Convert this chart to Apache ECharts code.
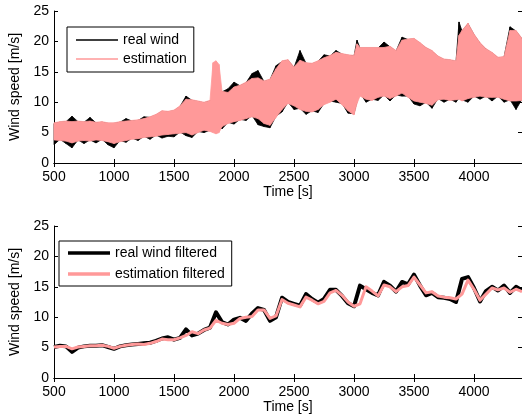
<!DOCTYPE html>
<html><head><meta charset="utf-8">
<script src="https://cdn.jsdelivr.net/npm/echarts@6/dist/echarts.min.js"></script>
<style>html,body{margin:0;padding:0;background:#fff}#c{width:522px;height:417px}</style>
</head><body><div id="c"></div>
<script>
// ---- top panel: envelopes of the raw signals (m/s) ----
const topTime = [500,550,600,650,700,750,800,850,900,950,1000,1050,1100,1150,1200,1250,1300,1350,1400,1450,1500,1550,1600,1650,1700,1750,1800,1825,1850,1875,1900,1950,2000,2050,2100,2150,2200,2250,2300,2350,2400,2450,2500,2550,2600,2650,2700,2750,2800,2850,2900,2950,3000,3025,3050,3100,3150,3200,3250,3300,3350,3400,3450,3500,3550,3600,3650,3700,3750,3800,3850,3875,3900,3950,4000,4050,4100,4150,4200,4250,4300,4350,4400];
const estHigh = [6.6,6.8,6.9,6.8,6.9,6.8,6.9,6.7,6.8,6.6,6.6,6.8,6.9,7.0,7.1,7.3,7.6,8.0,8.6,8.5,8.7,9.4,10.5,10.4,10.2,10.0,10.3,16.5,16.8,16.2,11.8,11.6,12.5,12.8,13.3,13.9,14.0,13.5,13.8,15.5,16.8,17.0,15.8,16.9,16.5,16.4,16.8,17.3,17.7,18.2,18.0,17.8,17.7,19.6,19.0,19.0,19.0,19.0,19.0,19.2,18.5,20.2,20.4,20.5,19.8,19.0,18.5,17.6,17.1,17.0,16.8,21.0,21.8,23.0,21.2,19.8,18.8,18.2,17.4,17.5,21.8,21.8,20.5];
const estLow = [3.8,3.7,3.6,3.3,3.6,3.7,3.6,3.8,3.7,3.5,3.2,3.5,3.7,3.9,4.0,4.2,4.3,4.4,4.6,4.7,4.8,4.9,5.0,4.6,5.0,5.4,5.2,5.0,4.8,5.0,6.0,6.5,6.8,7.0,7.3,7.6,7.3,6.5,6.2,7.5,8.8,9.8,9.4,8.8,8.5,8.4,8.8,9.6,10.0,10.5,9.6,8.6,7.9,9.8,11.0,10.5,10.3,10.8,11.0,10.6,11.0,11.5,10.8,10.2,10.0,9.8,9.5,10.4,10.5,10.3,10.4,10.5,10.2,10.6,10.8,11.0,10.8,10.8,10.8,10.5,10.2,10.2,10.3];
const realHigh = [6.5,6.7,6.8,7.7,6.8,6.7,7.5,6.6,6.7,6.5,6.5,6.7,7.3,6.9,7.0,7.6,7.5,7.9,8.5,8.4,8.6,9.3,11.0,10.3,10.1,9.9,10.2,10.5,10.8,11.0,11.7,12.2,13.3,12.7,13.2,14.7,15.2,13.4,13.7,16.0,16.7,16.9,15.7,18.5,16.4,16.3,16.7,17.8,17.6,18.5,17.9,17.7,17.6,20.2,18.9,18.9,18.9,18.9,19.9,19.1,18.4,20.7,20.3,20.4,19.7,18.9,18.4,17.5,17.0,16.9,16.7,23.2,21.7,22.9,21.1,19.7,18.7,18.1,17.3,17.4,22.4,21.7,20.4];
const realLow = [3.0,3.9,3.2,2.5,3.8,3.2,3.8,3.3,3.9,3.0,2.5,3.7,3.4,4.1,3.7,4.4,3.9,4.6,4.1,4.4,4.3,5.1,4.5,4.2,5.2,5.0,5.4,5.6,5.8,6.0,5.6,6.7,6.4,7.2,7.0,7.8,6.3,6.0,5.8,7.7,8.4,10.0,8.8,9.0,8.0,8.6,8.3,9.8,10.2,10.0,9.8,8.2,8.1,10.2,11.5,10.0,10.5,10.3,11.2,10.2,11.2,11.0,11.0,9.7,9.4,10.0,9.0,10.6,10.0,10.5,10.0,10.7,10.4,10.0,11.0,10.5,11.0,10.2,11.0,10.0,10.4,8.8,10.5];

// ---- bottom panel: filtered signals (m/s) ----
const filtTime = [500,550,600,650,700,750,800,850,900,950,1000,1050,1100,1150,1200,1250,1300,1350,1400,1450,1500,1550,1600,1650,1700,1750,1800,1850,1900,1950,2000,2050,2100,2150,2200,2250,2300,2350,2400,2450,2500,2550,2600,2650,2700,2750,2800,2850,2900,2950,3000,3050,3100,3150,3200,3250,3300,3350,3400,3450,3500,3550,3600,3650,3700,3750,3800,3850,3900,3950,4000,4050,4100,4150,4200,4250,4300,4350,4400];
const realFilt = [5.1,5.3,5.2,4.3,5.0,5.2,5.3,5.3,5.4,5.1,4.8,5.2,5.4,5.5,5.6,5.7,5.8,6.1,6.5,6.7,6.3,6.6,8.0,7.0,7.3,7.9,8.3,10.8,9.2,8.8,9.6,9.9,9.4,10.6,11.5,11.2,9.4,10.0,13.2,12.5,12.2,11.9,13.8,13.0,12.4,13.0,14.5,14.5,13.5,12.3,11.8,15.2,14.6,14.0,13.6,15.8,15.2,14.2,15.8,15.4,17.0,15.2,13.6,14.0,13.3,13.2,13.0,12.5,16.3,16.6,14.8,12.6,14.3,15.0,14.4,15.2,14.0,15.0,14.4];
const estFilt = [5.1,5.2,5.2,4.8,5.1,5.2,5.3,5.3,5.4,5.2,4.9,5.2,5.4,5.5,5.6,5.5,5.7,6.0,6.4,6.3,6.3,6.6,7.0,7.6,7.3,7.9,8.2,9.5,9.0,8.8,9.0,9.8,10.0,10.1,11.2,11.2,9.8,10.2,12.9,12.3,12.0,11.7,13.3,12.8,12.2,12.6,14.0,14.4,13.6,12.5,11.8,12.2,15.0,14.3,13.5,15.3,15.0,14.2,15.0,15.2,16.6,15.3,14.0,14.2,13.5,13.3,13.2,13.0,13.8,16.1,14.6,12.8,13.8,14.8,14.5,14.8,14.1,14.6,14.2];

const xMin = 500, xMax = 4400, xStep = 500;
const yMin = 0, yMax = 25, yStep = 5;
const topLegend = ['real wind', 'estimation'];
const bottomLegend = ['real wind filtered', 'estimation filtered'];
const xName = 'Time [s]', yName = 'Wind speed [m/s]';

const PINK = '#ff9999';
const FONT = '"Liberation Sans", Arial, Helvetica, sans-serif';

function pairs(t, v) { return t.map((x, i) => [x, v[i]]); }
// band segments: [t0, lo0, hi0, t1, lo1, hi1]
function bandSegments(t, lo, hi) {
  const out = [];
  for (let i = 0; i < t.length - 1; i++) out.push([t[i], lo[i], hi[i], t[i + 1], lo[i + 1], hi[i + 1]]);
  return out;
}
function bandRenderer(color) {
  return function (params, api) {
    const a = api.coord([api.value(0), api.value(2)]);
    const b = api.coord([api.value(3), api.value(5)]);
    const c = api.coord([api.value(3), api.value(4)]);
    const d = api.coord([api.value(0), api.value(1)]);
    return { type: 'polygon', shape: { points: [a, b, c, d] },
             style: { fill: color, stroke: color, lineWidth: 0.8 } };
  };
}

const chart = echarts.init(document.getElementById('c'), null, {renderer: 'canvas'});

function xAxes(gi) {
  return [
    { type: 'value', gridIndex: gi, position: 'bottom', min: xMin, max: xMax, interval: xStep,
      name: xName, nameLocation: 'middle', nameGap: 21,
      nameTextStyle: {fontSize: 14, color: '#000', fontFamily: FONT},
      axisLine: {show: true, lineStyle: {color: '#000', width: 1}},
      axisTick: {show: true, inside: true, length: 4, lineStyle: {color: '#000'}},
      axisLabel: {show: true, margin: 7, fontSize: 14, color: '#000', fontFamily: FONT,
                  showMaxLabel: false, formatter: v => String(v)},
      splitLine: {show: false} },
    { type: 'value', gridIndex: gi, position: 'top', min: xMin, max: xMax, interval: xStep,
      axisLine: {show: true, lineStyle: {color: '#000', width: 1}},
      axisTick: {show: true, inside: true, length: 4, lineStyle: {color: '#000'}},
      axisLabel: {show: false}, splitLine: {show: false} }
  ];
}
function yAxes(gi) {
  return [
    { type: 'value', gridIndex: gi, position: 'left', min: yMin, max: yMax, interval: yStep,
      name: yName, nameLocation: 'middle', nameGap: 27,
      nameTextStyle: {fontSize: 14, color: '#000', fontFamily: FONT},
      axisLine: {show: true, lineStyle: {color: '#000', width: 1}},
      axisTick: {show: true, inside: true, length: 4, lineStyle: {color: '#000'}},
      axisLabel: {show: true, margin: 5, fontSize: 14, color: '#000', fontFamily: FONT,
                  formatter: v => String(v)},
      splitLine: {show: false} },
    { type: 'value', gridIndex: gi, position: 'right', min: yMin, max: yMax, interval: yStep,
      axisLine: {show: true, lineStyle: {color: '#000', width: 1}},
      axisTick: {show: true, inside: true, length: 4, lineStyle: {color: '#000'}},
      axisLabel: {show: false}, splitLine: {show: false} }
  ];
}

const legendText = {fontSize: 14, color: '#000', fontFamily: FONT, lineHeight: 14};

const option = {
  animation: false,
  backgroundColor: '#fff',
  grid: [
    {left: 54, top: 11, width: 469, height: 152},
    {left: 54, top: 226, width: 469, height: 152}
  ],
  xAxis: [...xAxes(0), ...xAxes(1)],
  yAxis: [...yAxes(0), ...yAxes(1)],
  legend: [
    { data: topLegend, orient: 'vertical', left: 67, top: 27, icon: 'rect',
      itemWidth: 42, itemHeight: 1.4, itemGap: 5, padding: [6, 7, 6, 9],
      borderColor: '#000', borderWidth: 1, backgroundColor: '#fff',
      textStyle: legendText, itemStyle: {borderWidth: 0}, selectedMode: false, z: 20 },
    { data: bottomLegend, orient: 'vertical', left: 59, top: 241, icon: 'rect',
      itemWidth: 42, itemHeight: 3.5, itemGap: 7, padding: [5, 7, 5, 9],
      borderColor: '#000', borderWidth: 1, backgroundColor: '#fff',
      textStyle: legendText, itemStyle: {borderWidth: 0}, selectedMode: false, z: 20 }
  ],
  series: [
    { name: topLegend[0], type: 'custom', xAxisIndex: 0, yAxisIndex: 0,
      data: bandSegments(topTime, realLow, realHigh),
      encode: {x: [0, 3], y: [1, 2, 4, 5]},
      renderItem: bandRenderer('#000'), itemStyle: {color: '#000'}, silent: true, z: 2 },
    { name: topLegend[1], type: 'custom', xAxisIndex: 0, yAxisIndex: 0,
      data: bandSegments(topTime, estLow, estHigh),
      encode: {x: [0, 3], y: [1, 2, 4, 5]},
      renderItem: bandRenderer(PINK), itemStyle: {color: PINK}, silent: true, z: 3 },
    { name: bottomLegend[0], type: 'line', xAxisIndex: 2, yAxisIndex: 2,
      data: pairs(filtTime, realFilt), symbol: 'none',
      itemStyle: {color: '#000'}, lineStyle: {color: '#000', width: 4, join: 'round'}, z: 2 },
    { name: bottomLegend[1], type: 'line', xAxisIndex: 2, yAxisIndex: 2,
      data: pairs(filtTime, estFilt), symbol: 'none',
      itemStyle: {color: PINK}, lineStyle: {color: PINK, width: 3, join: 'round'}, z: 3 }
  ]
};
chart.setOption(option);
</script>
</body></html>
